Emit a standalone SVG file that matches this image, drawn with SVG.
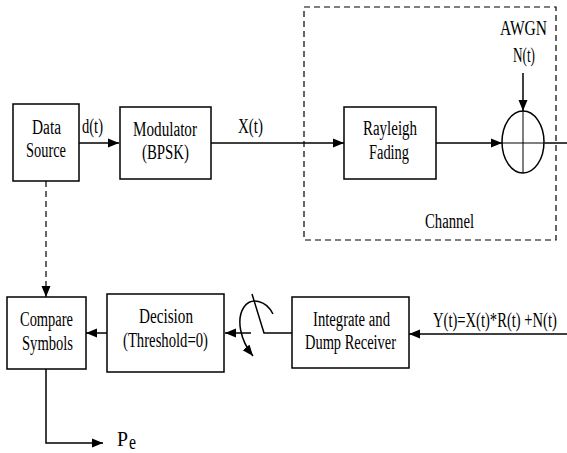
<svg xmlns="http://www.w3.org/2000/svg" width="567" height="453" viewBox="0 0 567 453">
<defs>
<marker id="ah" markerUnits="userSpaceOnUse" markerWidth="12" markerHeight="10" refX="11" refY="5" orient="auto">
<path d="M0,0.5 L11,5 L0,9.5 Z" fill="#000"/>
</marker>
</defs>
<style>
.box{fill:#fff;stroke:#000;stroke-width:1.5}
.ln{fill:none;stroke:#000;stroke-width:1.5}
.thin{fill:none;stroke:#000;stroke-width:1}
.dash{fill:none;stroke:#000;stroke-width:1.2;stroke-dasharray:6,4}
text{font-family:"Liberation Serif","Times New Roman",serif;font-size:20px;fill:#000}
</style>
<rect width="567" height="453" fill="#fff"/>
<g id="channel">
<rect x="304" y="7" width="252" height="233" class="dash"/>
<text x="425" y="228" textLength="49" lengthAdjust="spacingAndGlyphs">Channel</text>
</g>
<g id="connectors">
<line x1="79" y1="143" x2="119" y2="143" class="ln" marker-end="url(#ah)"/>
<line x1="211" y1="143" x2="344" y2="143" class="ln" marker-end="url(#ah)"/>
<line x1="436" y1="143" x2="502" y2="143" class="ln" marker-end="url(#ah)"/>
<line x1="545" y1="143" x2="567" y2="143" class="ln"/>
<line x1="523" y1="73" x2="523" y2="111" class="ln" marker-end="url(#ah)"/>
<line x1="567" y1="334" x2="409" y2="334" class="ln" marker-end="url(#ah)"/>
<polyline points="292,333 264,333 252,294" class="ln"/>
<line x1="251" y1="333" x2="225" y2="333" class="ln" marker-end="url(#ah)"/>
<line x1="107" y1="333" x2="86" y2="333" class="ln" marker-end="url(#ah)"/>
<line x1="46" y1="181" x2="46" y2="297" class="dash" marker-end="url(#ah)"/>
<polyline points="46,369 46,443 103,443" class="ln" marker-end="url(#ah)"/>
<path d="M273,314 C266,300 251,297 244,307 C236,319 240,340 253,356" class="ln" marker-end="url(#ah)"/>
</g>
<g id="data-source">
<rect x="13" y="104" width="66" height="77" class="box"/>
<text x="32" y="134" textLength="29" lengthAdjust="spacingAndGlyphs">Data</text>
<text x="26" y="157" textLength="40" lengthAdjust="spacingAndGlyphs">Source</text>
</g>
<text x="82" y="133" textLength="21" lengthAdjust="spacingAndGlyphs">d(t)</text>
<g id="modulator">
<rect x="120" y="107" width="91" height="72" class="box"/>
<text x="133" y="136" textLength="64" lengthAdjust="spacingAndGlyphs">Modulator</text>
<text x="142" y="159" textLength="47" lengthAdjust="spacingAndGlyphs">(BPSK)</text>
</g>
<text x="238" y="133" textLength="25" lengthAdjust="spacingAndGlyphs">X(t)</text>
<g id="rayleigh">
<rect x="344" y="107" width="92" height="72" class="box"/>
<text x="363" y="135" textLength="54" lengthAdjust="spacingAndGlyphs">Rayleigh</text>
<text x="369" y="159" textLength="40" lengthAdjust="spacingAndGlyphs">Fading</text>
</g>
<g id="adder">
<ellipse cx="523" cy="142" rx="21" ry="31" class="ln"/>
<line x1="523" y1="111" x2="523" y2="173" class="thin"/>
<line x1="502" y1="143" x2="545" y2="143" class="thin"/>
</g>
<g id="awgn">
<text x="500" y="35" textLength="47" lengthAdjust="spacingAndGlyphs">AWGN</text>
<text x="513" y="62" textLength="22" lengthAdjust="spacingAndGlyphs">N(t)</text>
</g>
<g id="integrate">
<rect x="292" y="297" width="117" height="71" class="box"/>
<text x="313" y="326" textLength="77" lengthAdjust="spacingAndGlyphs">Integrate and</text>
<text x="305" y="349" textLength="91" lengthAdjust="spacingAndGlyphs">Dump Receiver</text>
</g>
<text transform="translate(433,327) scale(0.73,1)" x="0" y="0">Y(t)=X(t)*R(t) +N(t)</text>
<g id="decision">
<rect x="107" y="294" width="117" height="78" class="box"/>
<text x="139" y="323" textLength="54" lengthAdjust="spacingAndGlyphs">Decision</text>
<text x="123" y="347" textLength="85" lengthAdjust="spacingAndGlyphs">(Threshold=0)</text>
</g>
<g id="compare">
<rect x="7" y="297" width="79" height="72" class="box"/>
<text x="20" y="326" textLength="53" lengthAdjust="spacingAndGlyphs">Compare</text>
<text x="22" y="350" textLength="51" lengthAdjust="spacingAndGlyphs">Symbols</text>
</g>
<g id="pe">
<text x="117" y="446" textLength="11" lengthAdjust="spacingAndGlyphs">P</text>
<text x="129" y="449" font-size="12" textLength="7" lengthAdjust="spacingAndGlyphs">e</text>
</g>
</svg>
